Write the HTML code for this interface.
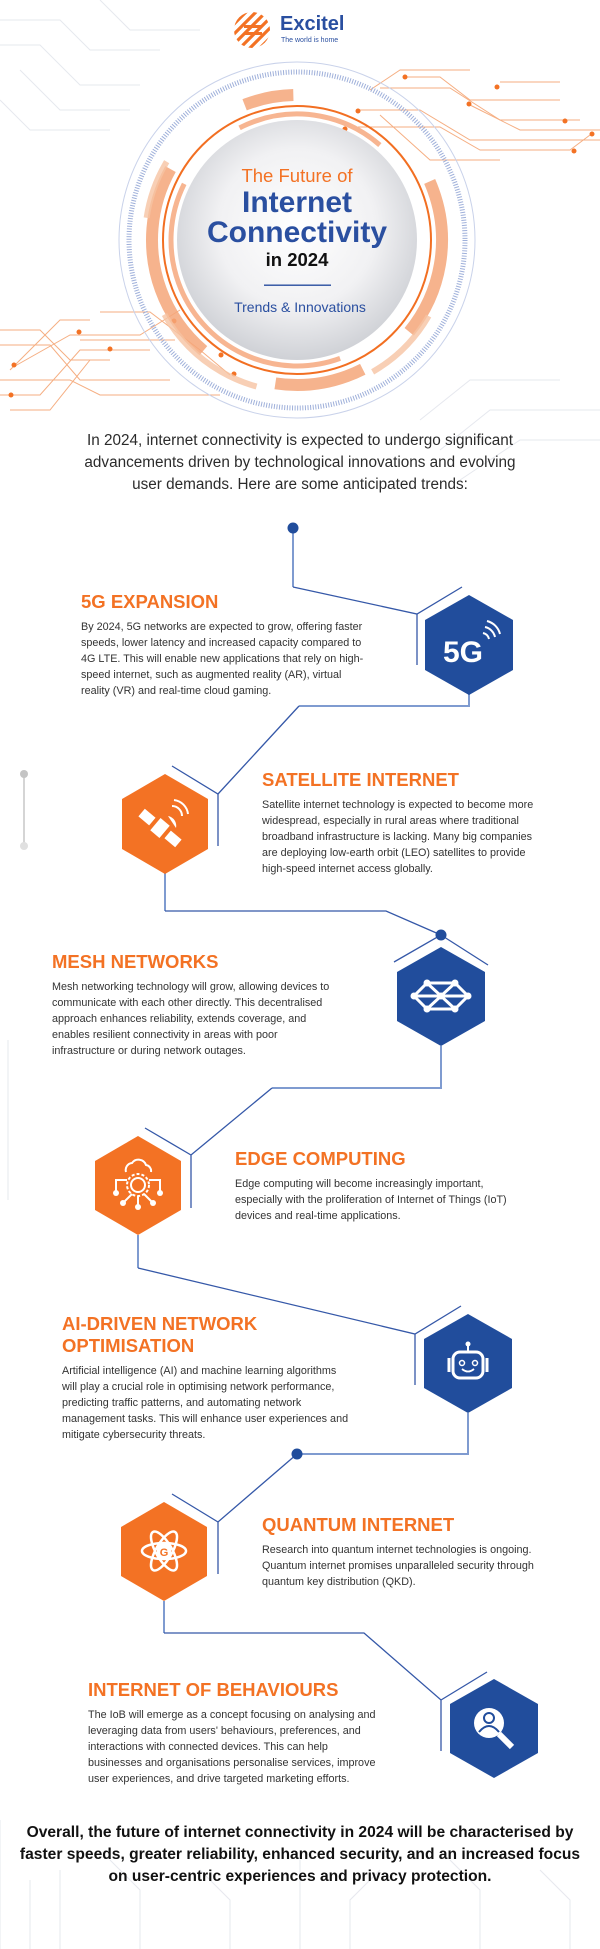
<!DOCTYPE html>
<html><head><meta charset="utf-8"><style>
html,body{margin:0;padding:0;background:#fff;}
svg{display:block;}
.h{font-family:"Liberation Sans",sans-serif;font-weight:bold;fill:#f37224;font-size:18.5px;}
.b{font-family:"Liberation Sans",sans-serif;fill:#333;font-size:10.8px;}
.i{font-family:"Liberation Sans",sans-serif;fill:#2b2b2b;font-size:15.3px;}
.c{font-family:"Liberation Sans",sans-serif;fill:#111;font-size:15.6px;font-weight:bold;}
.ln{stroke:#3558a8;stroke-width:1.3;fill:none;}
.lv{stroke:#7f9bd0;stroke-width:2;fill:none;}
.dc{stroke:#f39a63;stroke-width:1;fill:none;opacity:.8;}
.gd{stroke:#e6e8ee;stroke-width:1;fill:none;}
</style></head><body>
<svg width="600" height="1949" viewBox="0 0 600 1949" xmlns="http://www.w3.org/2000/svg">
<defs>
<radialGradient id="g" cx="50%" cy="45%" r="55%"><stop offset="0" stop-color="#ffffff"/><stop offset=".6" stop-color="#f1f1f3"/><stop offset="1" stop-color="#cfd1d6"/></radialGradient>
<clipPath id="lc"><circle cx="252" cy="30" r="18"/></clipPath>
</defs>
<!-- faint background circuits -->
<g class="gd">
<path d="M0 20 L60 20 L90 50 L160 50"/><path d="M0 45 L40 45 L80 85 L140 85"/><path d="M20 70 L60 110 L130 110"/><path d="M100 0 L130 30 L200 30"/><path d="M0 100 L30 130 L110 130"/>
<path d="M420 420 L470 380 L560 380"/><path d="M440 450 L490 410 L600 410"/><path d="M460 480 L520 440 L600 440"/>
<path d="M0 1820 L0 1949"/><path d="M30 1880 L30 1949"/><path d="M60 1870 L60 1949"/><path d="M110 1860 L140 1890 L140 1949"/><path d="M200 1870 L230 1900 L230 1949"/><path d="M300 1860 L300 1949"/><path d="M380 1870 L350 1900 L350 1949"/><path d="M450 1860 L480 1890 L480 1949"/><path d="M540 1870 L570 1900 L570 1949"/>
<path d="M8 1040 L8 1200"/>
</g>
<!-- orange circuits top-right -->
<g class="dc">
<path d="M370 90 L400 70 L470 70"/><path d="M405 77 L440 77 L470 100 L560 100"/><path d="M380 88 L450 88 L500 120 L580 120"/><path d="M360 110 L420 110 L470 140 L600 140"/><path d="M358 127 L440 127 L480 150 L570 150 L590 135"/><path d="M500 82 L560 82"/><path d="M470 105 L520 130 L600 130"/><path d="M380 115 L430 160 L500 160"/>
<path d="M0 330 L40 330 L70 360 L110 360"/><path d="M0 345 L50 345 L80 380 L170 380"/><path d="M10 370 L60 320 L90 320"/><path d="M0 380 L70 380 L100 395 L220 395"/><path d="M15 366 L70 335 L140 335 L180 310"/><path d="M0 395 L40 395 L80 350 L150 350"/><path d="M10 410 L50 410 L90 360"/><path d="M100 312 L150 312 L200 350 L230 375"/><path d="M80 340 L175 340"/>
</g>
<g fill="#f37224">
<circle cx="405" cy="77" r="2.5"/><circle cx="497" cy="87" r="2.5"/><circle cx="469" cy="104" r="2.5"/><circle cx="358" cy="111" r="2.5"/><circle cx="565" cy="121" r="2.5"/><circle cx="592" cy="134" r="2.5"/><circle cx="574" cy="151" r="2.5"/><circle cx="345" cy="129" r="2.5"/>
<circle cx="79" cy="332" r="2.5"/><circle cx="174" cy="321" r="2.5"/><circle cx="110" cy="349" r="2.5"/><circle cx="14" cy="365" r="2.5"/><circle cx="221" cy="355" r="2.5"/><circle cx="234" cy="374" r="2.5"/><circle cx="11" cy="395" r="2.5"/>
</g>
<!-- logo -->
<g clip-path="url(#lc)"><circle cx="252" cy="30" r="18" fill="#fff"/>
<g stroke="#f37224" stroke-width="3.2"><path d="M228 30 L252 6"/><path d="M232 36 L258 10"/><path d="M236 42 L264 14"/><path d="M240 48 L270 18"/><path d="M246 52 L274 24"/><path d="M226 24 L246 4"/><path d="M252 56 L276 32"/></g>
<rect x="244" y="25" width="18" height="3" fill="#f37224"/><rect x="244" y="32" width="18" height="3" fill="#f37224"/></g>
<text x="280" y="30" font-family="Liberation Sans,sans-serif" font-weight="bold" font-size="20" fill="#2a4fa0">Excitel</text>
<text x="281" y="42" font-family="Liberation Sans,sans-serif" font-size="7" fill="#2a4fa0">The world is home</text>
<!-- title circle -->
<circle cx="297" cy="240" r="178" fill="none" stroke="#c9d2ea" stroke-width="1"/>
<circle cx="297" cy="240" r="168" fill="none" stroke="#9fb0da" stroke-width="5" stroke-dasharray="1 1.6"/>
<circle cx="297" cy="240" r="145" fill="none" stroke="#f4a679" stroke-width="12" stroke-dasharray="150 60 90 80 200 100 50 171" transform="rotate(-20 297 240)" opacity=".85"/>
<circle cx="297" cy="240" r="152" fill="none" stroke="#f6c3a3" stroke-width="6" stroke-dasharray="80 120 120 100 60 475" transform="rotate(30 297 240)" opacity=".8"/>
<circle cx="297" cy="240" r="134" fill="none" stroke="#f26f22" stroke-width="2"/>
<circle cx="297" cy="240" r="126" fill="none" stroke="#f7b591" stroke-width="5" stroke-dasharray="300 80 150 262" transform="rotate(70 297 240)"/>
<circle cx="297" cy="240" r="120" fill="url(#g)"/>
<text x="297" y="182" text-anchor="middle" font-family="Liberation Sans,sans-serif" font-size="18.5" fill="#f37224">The Future of</text>
<text x="297" y="212" text-anchor="middle" font-family="Liberation Sans,sans-serif" font-weight="bold" font-size="30" fill="#2a4fa0">Internet</text>
<text x="297" y="242" text-anchor="middle" font-family="Liberation Sans,sans-serif" font-weight="bold" font-size="30" fill="#2a4fa0">Connectivity</text>
<text x="297" y="266" text-anchor="middle" font-family="Liberation Sans,sans-serif" font-weight="bold" font-size="18.5" fill="#111">in 2024</text>
<rect x="264" y="284.5" width="67" height="1.4" fill="#2a4fa0"/>
<text x="300" y="312" text-anchor="middle" font-family="Liberation Sans,sans-serif" font-size="14" fill="#2a4fa0">Trends &amp; Innovations</text>
<!-- intro -->
<text class="i" x="300" y="445" text-anchor="middle">In 2024, internet connectivity is expected to undergo significant</text>
<text class="i" x="300" y="467" text-anchor="middle">advancements driven by technological innovations and evolving</text>
<text class="i" x="300" y="489" text-anchor="middle">user demands. Here are some anticipated trends:</text>
<!-- connectors -->
<path class="lv" d="M293 528 L293 587"/><path class="ln" d="M293 587 L417 614 L462 587"/><path class="ln" d="M417 614 L417 665"/>
<path class="lv" d="M469 694 L469 706 L299 706"/><path class="ln" d="M299 706 L218 794 L172 766"/><path class="ln" d="M218 794 L218 846"/>
<path class="lv" d="M165 873 L165 911"/><path class="ln" d="M165 911 L386 911 L441 935 L394 962 M441 935 L488 965"/>
<path class="lv" d="M441 1046 L441 1088 L272 1088"/><path class="ln" d="M272 1088 L191 1155 L145 1128 M191 1155 L191 1208"/>
<path class="lv" d="M138 1235 L138 1268"/><path class="ln" d="M138 1268 L415 1334 L461 1306 M415 1334 L415 1385"/>
<path class="lv" d="M468 1413 L468 1454 L297 1454"/><path class="ln" d="M297 1454 L218 1522 L172 1494 M218 1522 L218 1574"/>
<path class="lv" d="M164 1601 L164 1633"/><path class="ln" d="M164 1633 L364 1633 L441 1700 L487 1672 M441 1700 L441 1751"/>
<circle cx="293" cy="528" r="5.5" fill="#214d9c"/><circle cx="441" cy="935" r="5.5" fill="#214d9c"/><circle cx="297" cy="1454" r="5.5" fill="#214d9c"/>
<path d="M24 774 L24 846" stroke="#d5d5d5" stroke-width="2"/><circle cx="24" cy="774" r="4" fill="#c4c4c4"/><circle cx="24" cy="846" r="4" fill="#e0e0e0"/>
<!-- hexes -->
<g>
<polygon points="469,595 513,620 513,670 469,695 425,670 425,620" fill="#214d9c"/>
<text x="463" y="662" text-anchor="middle" font-family="Liberation Sans,sans-serif" font-weight="bold" font-size="30" fill="#fff">5G</text>
<path d="M483 633 a8 8 0 0 1 6 6 M485 627 a13 13 0 0 1 10 10 M487 621 a18 18 0 0 1 13 13" stroke="#fff" stroke-width="2" fill="none"/>
</g>
<g>
<polygon points="165,774 208,799 208,849 165,874 122,849 122,799" fill="#f37224"/>
<g fill="#fff" transform="rotate(40 160 828)"><rect x="154" y="820" width="12" height="16"/><rect x="136" y="823" width="14" height="10"/><rect x="170" y="823" width="14" height="10"/></g>
<path d="M168 816 a10 10 0 0 1 8 12 z" fill="#fff"/>
<path d="M172 806 a10 10 0 0 1 10 10 M174 800 a16 16 0 0 1 14 14" stroke="#fff" stroke-width="2" fill="none"/>
</g>
<g>
<polygon points="441,947 485,972 485,1021 441,1046 397,1021 397,972" fill="#214d9c"/>
<g stroke="#fff" stroke-width="3" fill="none"><path d="M427 983 L455 983 L468 996 L455 1009 L427 1009 L414 996 Z"/><path d="M427 983 L441 996 L455 983 M427 1009 L441 996 L455 1009 M414 996 L468 996"/></g>
<g fill="#fff"><circle cx="427" cy="983" r="3.5"/><circle cx="455" cy="983" r="3.5"/><circle cx="414" cy="996" r="3.5"/><circle cx="468" cy="996" r="3.5"/><circle cx="427" cy="1009" r="3.5"/><circle cx="455" cy="1009" r="3.5"/><circle cx="441" cy="996" r="3.5"/></g>
</g>
<g>
<polygon points="138,1136 181,1161 181,1210 138,1235 95,1210 95,1161" fill="#f37224"/>
<g stroke="#fff" stroke-width="2" fill="none"><circle cx="138" cy="1185" r="7"/><circle cx="138" cy="1185" r="11" stroke-dasharray="3 2"/><path d="M127 1180 L116 1180 L116 1192 M149 1180 L160 1180 L160 1192 M138 1196 L138 1205 M132 1194 L124 1202 M144 1194 L152 1202"/><path d="M126 1172 a7 7 0 0 1 6 -9 a8 8 0 0 1 14 2 a6 6 0 0 1 5 7"/></g>
<g fill="#fff"><circle cx="116" cy="1193" r="3"/><circle cx="160" cy="1193" r="3"/><circle cx="138" cy="1207" r="3"/><circle cx="123" cy="1203" r="3"/><circle cx="153" cy="1203" r="3"/></g>
</g>
<g>
<polygon points="468,1314 512,1339 512,1388 468,1413 424,1388 424,1339" fill="#214d9c"/>
<rect x="453" y="1352" width="30" height="26" rx="7" fill="none" stroke="#fff" stroke-width="3"/>
<path d="M449 1358 L449 1372 M487 1358 L487 1372" stroke="#fff" stroke-width="3"/>
<path d="M468 1352 L468 1345" stroke="#fff" stroke-width="2"/><circle cx="468" cy="1344" r="2.5" fill="#fff"/>
<circle cx="462" cy="1363" r="2.5" fill="none" stroke="#fff" stroke-width="1.5"/><circle cx="475" cy="1363" r="2.5" fill="none" stroke="#fff" stroke-width="1.5"/>
<path d="M462 1369 q6 5 12 0" stroke="#fff" stroke-width="1.8" fill="none"/>
</g>
<g>
<polygon points="164,1502 207,1527 207,1576 164,1601 121,1576 121,1527" fill="#f37224"/>
<g stroke="#fff" stroke-width="2.5" fill="none"><ellipse cx="164" cy="1551" rx="22" ry="8"/><ellipse cx="164" cy="1551" rx="22" ry="8" transform="rotate(60 164 1551)"/><ellipse cx="164" cy="1551" rx="22" ry="8" transform="rotate(-60 164 1551)"/></g>
<rect x="157" y="1544" width="14" height="14" fill="#fff"/><text x="164" y="1556" text-anchor="middle" font-family="Liberation Sans,sans-serif" font-weight="bold" font-size="11" fill="#f37224">G</text>
</g>
<g>
<polygon points="494,1679 538,1704 538,1753 494,1778 450,1753 450,1704" fill="#214d9c"/>
<circle cx="489" cy="1723" r="15" fill="#fff"/>
<circle cx="489" cy="1718" r="5" fill="none" stroke="#214d9c" stroke-width="2"/>
<path d="M479 1732 q10 -12 20 0" fill="none" stroke="#214d9c" stroke-width="2"/>
<path d="M499 1734 L512 1747" stroke="#fff" stroke-width="6"/>
</g>
<!-- section text -->
<text class="h" x="81" y="608">5G EXPANSION</text>
<text class="b" x="81" y="630">By 2024, 5G networks are expected to grow, offering faster</text>
<text class="b" x="81" y="646">speeds, lower latency and increased capacity compared to</text>
<text class="b" x="81" y="662">4G LTE. This will enable new applications that rely on high-</text>
<text class="b" x="81" y="678">speed internet, such as augmented reality (AR), virtual</text>
<text class="b" x="81" y="694">reality (VR) and real-time cloud gaming.</text>

<text class="h" x="262" y="786">SATELLITE INTERNET</text>
<text class="b" x="262" y="808">Satellite internet technology is expected to become more</text>
<text class="b" x="262" y="824">widespread, especially in rural areas where traditional</text>
<text class="b" x="262" y="840">broadband infrastructure is lacking. Many big companies</text>
<text class="b" x="262" y="856">are deploying low-earth orbit (LEO) satellites to provide</text>
<text class="b" x="262" y="872">high-speed internet access globally.</text>

<text class="h" x="52" y="968">MESH NETWORKS</text>
<text class="b" x="52" y="990">Mesh networking technology will grow, allowing devices to</text>
<text class="b" x="52" y="1006">communicate with each other directly. This decentralised</text>
<text class="b" x="52" y="1022">approach enhances reliability, extends coverage, and</text>
<text class="b" x="52" y="1038">enables resilient connectivity in areas with poor</text>
<text class="b" x="52" y="1054">infrastructure or during network outages.</text>

<text class="h" x="235" y="1165">EDGE COMPUTING</text>
<text class="b" x="235" y="1187">Edge computing will become increasingly important,</text>
<text class="b" x="235" y="1203">especially with the proliferation of Internet of Things (IoT)</text>
<text class="b" x="235" y="1219">devices and real-time applications.</text>

<text class="h" x="62" y="1330">AI-DRIVEN NETWORK</text>
<text class="h" x="62" y="1352">OPTIMISATION</text>
<text class="b" x="62" y="1374">Artificial intelligence (AI) and machine learning algorithms</text>
<text class="b" x="62" y="1390">will play a crucial role in optimising network performance,</text>
<text class="b" x="62" y="1406">predicting traffic patterns, and automating network</text>
<text class="b" x="62" y="1422">management tasks. This will enhance user experiences and</text>
<text class="b" x="62" y="1438">mitigate cybersecurity threats.</text>

<text class="h" x="262" y="1531">QUANTUM INTERNET</text>
<text class="b" x="262" y="1553">Research into quantum internet technologies is ongoing.</text>
<text class="b" x="262" y="1569">Quantum internet promises unparalleled security through</text>
<text class="b" x="262" y="1585">quantum key distribution (QKD).</text>

<text class="h" x="88" y="1696">INTERNET OF BEHAVIOURS</text>
<text class="b" x="88" y="1718">The IoB will emerge as a concept focusing on analysing and</text>
<text class="b" x="88" y="1734">leveraging data from users' behaviours, preferences, and</text>
<text class="b" x="88" y="1750">interactions with connected devices. This can help</text>
<text class="b" x="88" y="1766">businesses and organisations personalise services, improve</text>
<text class="b" x="88" y="1782">user experiences, and drive targeted marketing efforts.</text>

<text class="c" x="300" y="1837" text-anchor="middle">Overall, the future of internet connectivity in 2024 will be characterised by</text>
<text class="c" x="300" y="1859" text-anchor="middle">faster speeds, greater reliability, enhanced security, and an increased focus</text>
<text class="c" x="300" y="1881" text-anchor="middle">on user-centric experiences and privacy protection.</text>
</svg>
</body></html>
